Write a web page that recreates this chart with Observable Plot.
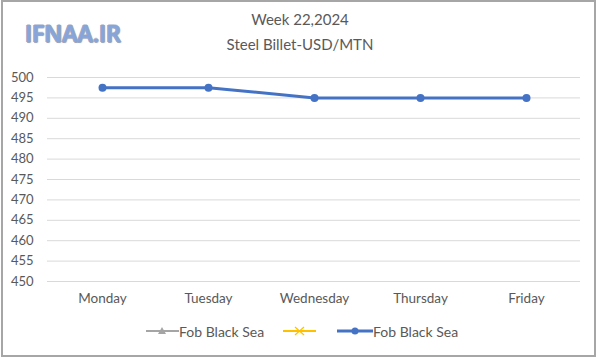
<!DOCTYPE html>
<html><head><meta charset="utf-8">
<script src="https://cdn.jsdelivr.net/npm/d3@7"></script>
<script src="https://cdn.jsdelivr.net/npm/@observablehq/plot@0.6"></script>
<style>
body{margin:0;background:#fff;font-family:Lato,"Open Sans",sans-serif;}
#wrap{position:relative;width:600px;height:359px;overflow:hidden;}
#frame{position:absolute;left:1px;top:0;width:591px;height:353px;border:2px solid #a6a6a6;}
#logo{position:absolute;left:25px;top:17px;font-size:23px;font-weight:600;color:#86a5dc;letter-spacing:0;
 text-shadow:1px 0 0 #9aa8c0,-1px 0 0 #9aa8c0,0 1px 0 #9aa8c0,0 -1px 0 #c5cfe0,1px 1px 1px #b0b8c8;font-family:"Open Sans",sans-serif;}
.t{position:absolute;left:0;width:600px;text-align:center;font-size:15px;color:#595959;}
#plot{position:absolute;left:0;top:0;}
#legend{position:absolute;top:322px;left:0;width:600px;font-size:14px;color:#595959;}
.li{position:absolute;top:0;display:flex;align-items:center;height:18px;}
</style></head><body>
<div id="wrap">
<div id="frame"></div>
<div id="plot"></div>
<div id="logo">IFNAA.IR</div>
<div class="t" style="top:10px">Week 22,2024</div>
<div class="t" style="top:35px">Steel Billet-USD/MTN</div>
<div id="legend">
 <div class="li" style="left:146px"><svg width="33" height="10"><line x1="0" y1="5" x2="33" y2="5" stroke="#a5a5a5" stroke-width="2"/><path d="M16,1 L20,8 L12,8Z" fill="#a5a5a5"/></svg><span>Fob Black Sea</span></div>
 <div class="li" style="left:283px"><svg width="33" height="10"><line x1="0" y1="5" x2="33" y2="5" stroke="#ffc000" stroke-width="2"/><path d="M12,1 L21,9 M21,1 L12,9" stroke="#ffc000" stroke-width="1.2"/></svg></div>
 <div class="li" style="left:337px"><svg width="36" height="10"><line x1="0" y1="5" x2="36" y2="5" stroke="#4472c4" stroke-width="3"/><circle cx="18" cy="5" r="3.5" fill="#4472c4"/></svg><span>Fob Black Sea</span></div>
</div>
</div>
<script>
const days = ["Monday","Tuesday","Wednesday","Thursday","Friday"];
const prices = [497.5, 497.5, 495, 495, 495];
const yTicks = [450,455,460,465,470,475,480,485,490,495,500];
const data = days.map((d,i)=>({day:d, price:prices[i]}));
const chart = Plot.plot({
  width:600, height:359,
  marginTop:77, marginBottom:78, marginLeft:47, marginRight:20,
  style:{fontFamily:"Lato, 'Open Sans', sans-serif", fontSize:"13px", color:"#595959", background:"transparent"},
  x:{type:"point", domain:days, padding:0.5, label:null, tickSize:0, tickPadding:12},
  y:{domain:[450,500], ticks:yTicks, label:null, tickSize:0, tickPadding:14},
  marks:[
    Plot.gridY(yTicks,{stroke:"#d9d9d9", strokeOpacity:1, strokeWidth:1}),
    Plot.axisX({tickSize:0, tickPadding:12, fontSize:13.5}),
    Plot.line(data,{x:"day", y:"price", stroke:"#4472c4", strokeWidth:3}),
    Plot.dot(data,{x:"day", y:"price", r:4, fill:"#4472c4"})
  ]
});
document.getElementById("plot").appendChild(chart);
</script>
</body></html>
